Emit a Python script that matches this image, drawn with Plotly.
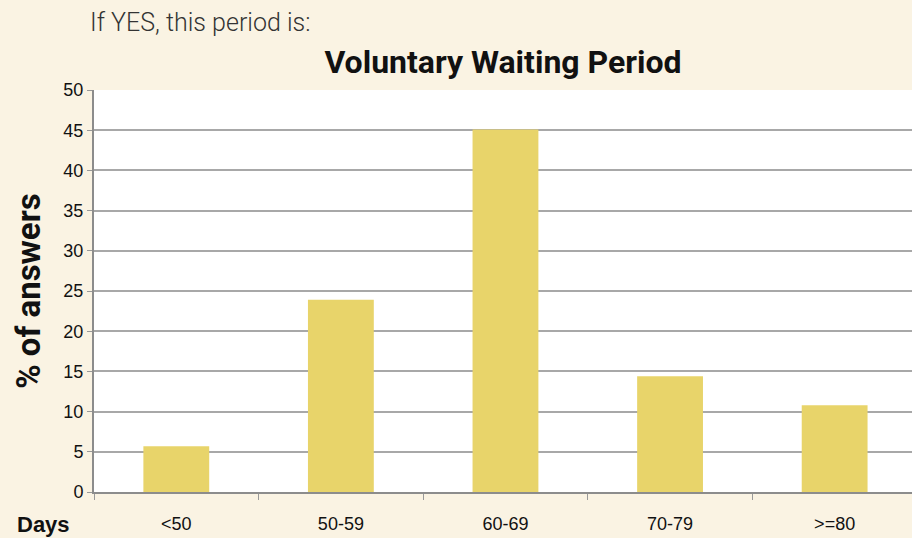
import plotly.graph_objects as go

categories = ["<50", "50-59", "60-69", "70-79", ">=80"]
values = [5.7, 23.9, 45.1, 14.4, 10.8]
y_ticks = [0, 5, 10, 15, 20, 25, 30, 35, 40, 45, 50]

fig = go.Figure()
fig.add_trace(go.Bar(
    x=categories, y=values,
    marker=dict(color="#E8D46A", line=dict(width=0)),
    width=0.4,
))

fig.update_layout(
    width=912, height=538,
    paper_bgcolor="#FAF3E3",
    plot_bgcolor="#FFFFFF",
    margin=dict(l=94, r=0, t=90, b=46),
    showlegend=False,
    title=dict(
        text="<b>Voluntary Waiting Period</b>",
        font=dict(family="Roboto", size=32, color="#111111"),
        x=0.5515, xanchor="center", y=0.885, yanchor="middle",
    ),
    bargap=0.6,
)

fig.update_xaxes(
    range=[-0.5, 4.47],
    showline=True, linecolor="#8C8C8C", linewidth=2,
    ticks="outside", tickson="boundaries", ticklen=6, tickcolor="#999999",
    tickfont=dict(family="Liberation Sans", size=18, color="#111111"),
    ticklabelstandoff=14,
    showgrid=False,
)
fig.update_yaxes(
    range=[0, 50], tickvals=y_ticks,
    showline=True, linecolor="#8C8C8C", linewidth=2,
    ticks="outside", ticklen=5, tickcolor="#999999",
    tickfont=dict(family="Liberation Sans", size=18, color="#111111"),
    showgrid=True, gridcolor="#A8A8A8", gridwidth=1.5,
    zeroline=False,
    title=dict(text="<b>% of answers</b>", font=dict(family="Roboto", size=33, color="#111111"), standoff=13),
)

fig.add_annotation(
    text="If YES, this period is:", xref="paper", yref="paper",
    x=-0.0075, y=1.169,
    yanchor="middle", xanchor="left", showarrow=False,
    font=dict(family="Roboto", size=25, color="#333333", weight=300),
)
fig.add_annotation(
    text="<b>Days</b>", xref="paper", yref="paper",
    x=-0.097, y=-0.082, xanchor="left", yanchor="middle", showarrow=False,
    font=dict(family="Liberation Sans", size=22, color="#111111"),
)

fig.write_html("out.html", config={"displayModeBar": False},
               post_script="document.body.style.margin='0';document.body.style.overflow='hidden';")
